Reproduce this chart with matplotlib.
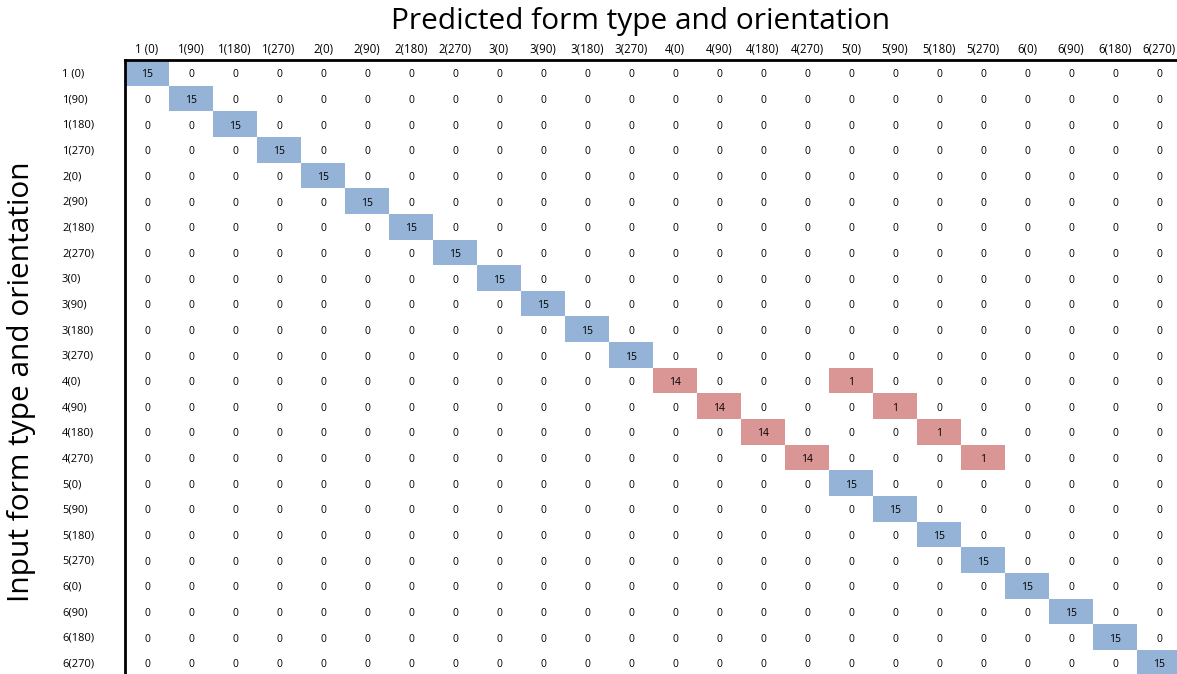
import numpy as np
import matplotlib
matplotlib.use('Agg')
import matplotlib.pyplot as plt
from matplotlib.colors import ListedColormap

matplotlib.rcParams['font.family'] = ['Open Sans', 'DejaVu Sans']

# 类别标签（行 = 输入，列 = 预测）
col_labels = ['1 (0)', '1(90)', '1(180)', '1(270)', '2(0)', '2(90)', '2(180)', '2(270)',
              '3(0)', '3(90)', '3(180)', '3(270)', '4(0)', '4(90)', '4(180)', '4(270)',
              '5(0)', '5(90)', '5(180)', '5(270)', '6(0)', '6(90)', '6(180)', '6(270)']
row_labels = list(col_labels)

# 对角线上的正确数量
diag_counts = [15, 15, 15, 15, 15, 15, 15, 15, 15, 15, 15, 15,
               14, 14, 14, 14, 15, 15, 15, 15, 15, 15, 15, 15]
# 误分类：(输入行, 预测列, 数量)
mis_rows = [12, 13, 14, 15]
mis_cols = [16, 17, 18, 19]
mis_counts = [1, 1, 1, 1]

n = len(col_labels)
matrix = np.zeros((n, n), dtype=int)
matrix[np.arange(n), np.arange(n)] = diag_counts
for r, c, v in zip(mis_rows, mis_cols, mis_counts):
    matrix[r, c] = v

# 颜色类别：0 白, 1 蓝(全对), 2 红(有错误的行)
shade = np.zeros((n, n), dtype=int)
for i in range(n):
    shade[i, i] = 1
for r, c in zip(mis_rows, mis_cols):
    shade[r, r] = 2
    shade[r, c] = 2
cmap = ListedColormap(['white', '#95B3D7', '#DA9694'])

W, H = 1177, 674
fig = plt.figure(figsize=(W / 100, H / 100), dpi=100)
left, top = 125, 60
cw, rh = 44.0, 25.65
ax = fig.add_axes([left / W, (H - top - rh * n) / H, cw * n / W, rh * n / H])

ax.pcolormesh(np.arange(n + 1), np.arange(n + 1), shade, cmap=cmap, vmin=0, vmax=2,
              edgecolor='none')
ax.set_xlim(0, n)
ax.set_ylim(n, 0)

for i in range(n):
    for j in range(n):
        ax.text(j + 0.5, i + 0.58, str(matrix[i, j]), ha='center', va='center',
                fontsize=7.5, color='black')

# 列标签
for j, lab in enumerate(col_labels):
    ax.text(j + 0.5, -0.15, lab, ha='center', va='bottom', fontsize=8.3)
# 行标签
for i, lab in enumerate(row_labels):
    fig.text(62 / W, 1 - (top + rh * (i + 0.55)) / H, lab, ha='left', va='center', fontsize=8)

ax.set_xticks([])
ax.set_yticks([])
for s in ['right', 'bottom']:
    ax.spines[s].set_visible(False)
for s in ['top', 'left']:
    ax.spines[s].set_linewidth(2)
    ax.spines[s].set_color('black')

fig.text(641 / W, 1 - 22 / H, 'Predicted form type and orientation', ha='center', va='center',
         fontsize=21.5)
fig.text(22 / W, 1 - 382 / H, 'Input form type and orientation', ha='center', va='center',
         rotation=90, fontsize=21.5)

fig.savefig('out.png', dpi=100)
